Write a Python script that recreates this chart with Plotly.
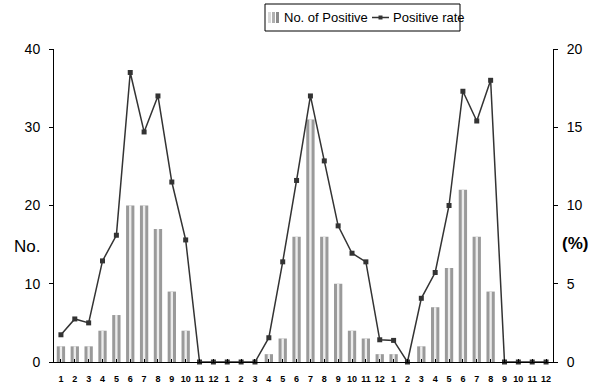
import plotly.graph_objects as go

months = [str(m) for m in range(1, 13)] * 3
positives = [2, 2, 2, 4, 6, 20, 20, 17, 9, 4, 0, 0,
             0, 0, 0, 1, 3, 16, 31, 16, 10, 4, 3, 1,
             1, 0, 2, 7, 12, 22, 16, 9, 0, 0, 0, 0]
rates = [1.74, 2.75, 2.5, 6.46, 8.1, 18.5, 14.7, 17.0, 11.5, 7.8, 0, 0,
         0, 0, 0, 1.55, 6.4, 11.6, 17.0, 12.85, 8.7, 6.95, 6.4, 1.42,
         1.38, 0, 4.07, 5.72, 10.0, 17.3, 15.4, 18.0, 0, 0, 0, 0]
left_ticks = [0, 10, 20, 30, 40]
right_ticks = [0, 5, 10, 15, 20]
legend_labels = ["No. of Positive", "Positive rate"]

x = list(range(len(months)))
FONT = "Liberation Sans, Arial, sans-serif"

fig = go.Figure()
fig.add_trace(go.Bar(x=x, y=positives, width=0.6, name=legend_labels[0],
                     marker=dict(color="#9a9a9a", line=dict(width=0)), showlegend=False))
fig.add_trace(go.Bar(x=x, y=positives, width=0.17, name="hl",
                     marker=dict(color="#ececec", line=dict(width=0)), showlegend=False,
                     hoverinfo="skip"))
fig.add_trace(go.Scatter(x=x, y=rates, yaxis="y2", mode="lines+markers", name=legend_labels[1],
                         line=dict(color="#333333", width=1.5),
                         marker=dict(symbol="square", size=5, color="#333333"),
                         cliponaxis=False, showlegend=False))

# manual legend (paper coordinates computed from pixel positions)
L, R, T, B = 54, 553, 49, 362
W, H = R - L, B - T
def px(xp):
    return (xp - L) / W
def py(yp):
    return (B - yp) / H

shapes = [
    dict(type="rect", xref="paper", yref="paper", x0=px(265), x1=px(460), y0=py(31), y1=py(4),
         line=dict(color="black", width=1), fillcolor="white", layer="above"),
]
for i, c in enumerate(["#d8d8d8", "#b0b0b0", "#8a8a8a"]):
    x0 = 268 + i * 4
    shapes.append(dict(type="rect", xref="paper", yref="paper", x0=px(x0), x1=px(x0 + 3),
                       y0=py(23), y1=py(12), line=dict(width=0), fillcolor=c, layer="above"))
shapes.append(dict(type="line", xref="paper", yref="paper", x0=px(372), x1=px(389),
                   y0=py(17.5), y1=py(17.5), line=dict(color="#333333", width=1.5), layer="above"))
shapes.append(dict(type="rect", xref="paper", yref="paper", x0=px(378.5), x1=px(382.5),
                   y0=py(19.5), y1=py(15.5), line=dict(width=0), fillcolor="#333333", layer="above"))

annotations = [
    dict(text=legend_labels[0], xref="paper", yref="paper", x=px(282), y=py(17.5), xanchor="left",
         yanchor="middle", showarrow=False, font=dict(size=13, family=FONT)),
    dict(text=legend_labels[1], xref="paper", yref="paper", x=px(391), y=py(17.5), xanchor="left",
         yanchor="middle", showarrow=False, font=dict(size=13, family=FONT)),
    dict(text="No.", xref="paper", yref="paper", x=px(42), y=py(246), xanchor="right",
         yanchor="middle", showarrow=False, font=dict(size=17, family=FONT)),
    dict(text="<b>(%)</b>", xref="paper", yref="paper", x=px(560), y=py(243), xanchor="left",
         yanchor="middle", showarrow=False, font=dict(size=17, family=FONT)),
]

fig.update_layout(
    width=602, height=388,
    margin=dict(l=L, r=602 - R, t=T, b=388 - B, autoexpand=False),
    paper_bgcolor="white", plot_bgcolor="white",
    barmode="overlay",
    font=dict(family=FONT, size=13, color="black"),
    showlegend=False,
    xaxis=dict(range=[-0.5, 35.5], tickmode="array", tickvals=x, ticktext=[f"<b>{m}</b>" for m in months],
               tickfont=dict(size=9, family=FONT, color="black"),
               showline=True, linecolor="black", linewidth=1,
               ticks="inside", ticklen=3, tickcolor="black", tickson="boundaries",
               showgrid=False, zeroline=False, ticklabelstandoff=8),
    yaxis=dict(range=[0, 40], tickmode="array", tickvals=left_ticks,
               showline=True, linecolor="black", linewidth=1,
               ticks="outside", ticklen=4, tickcolor="black",
               tickfont=dict(size=14, family=FONT),
               showgrid=False, zeroline=False, ticklabelstandoff=6),
    yaxis2=dict(range=[0, 20], tickmode="array", tickvals=right_ticks, overlaying="y", side="right",
                showline=True, linecolor="black", linewidth=1,
                ticks="outside", ticklen=4, tickcolor="black",
                tickfont=dict(size=14, family=FONT),
                showgrid=False, zeroline=False, ticklabelstandoff=6),
    shapes=shapes,
    annotations=annotations,
)

fig.write_html("out.html", config={"displayModeBar": False},
               post_script="document.body.style.margin='0';document.body.style.overflow='hidden';")
